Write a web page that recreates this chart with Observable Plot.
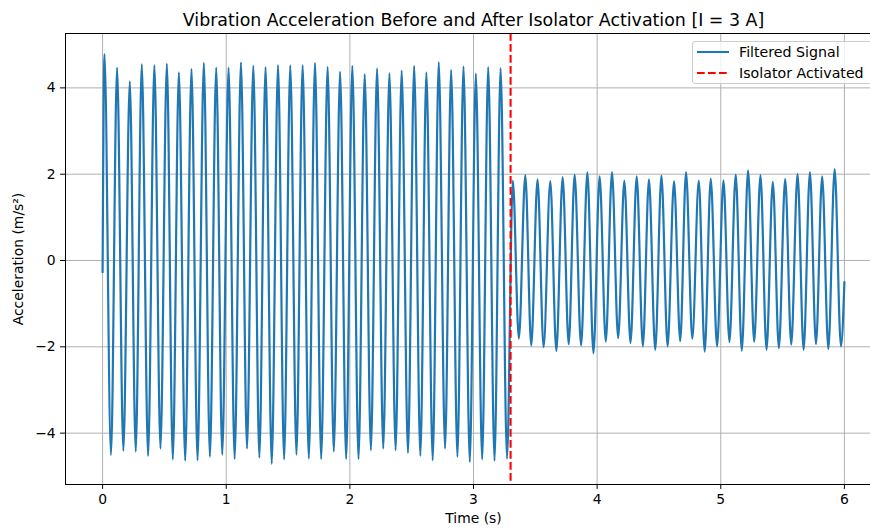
<!DOCTYPE html>
<html>
<head>
<meta charset="utf-8">
<script src="https://cdn.jsdelivr.net/npm/d3@7"></script>
<script src="https://cdn.jsdelivr.net/npm/@observablehq/plot@0.6"></script>
<style>
  html, body { margin: 0; padding: 0; background: #fff; overflow: hidden; width: 870px; height: 529px; }
  #wrap { position: relative; width: 882px; height: 529px; }
  #legend { position: absolute; left: 692px; top: 41px; width: 181px; height: 43px; box-sizing: border-box;
    border: 1px solid #cccccc; border-radius: 3px; background: rgba(255,255,255,0.8);
    font-family: "DejaVu Sans", sans-serif; font-size: 14.2px; color: #000; }
  .item { position: absolute; left: 0; height: 20px; width: 181px; }
  .item svg { position: absolute; left: 4px; top: 0; }
  .item span { position: absolute; left: 46px; top: 1px; line-height: 18px; white-space: nowrap; }
</style>
</head>
<body>
<div id="wrap">
  <div id="chart"></div>
  <div id="legend"></div>
</div>
<script>
// ---- data (extrema of the filtered signal) ----
const times = [
  0.000,
  0.015, 0.068, 0.117, 0.168, 0.220, 0.268, 0.317, 0.368, 0.419, 0.468,
  0.520, 0.568, 0.617, 0.668, 0.719, 0.768, 0.819, 0.868, 0.919, 0.968,
  1.019, 1.068, 1.119, 1.168, 1.219, 1.268, 1.318, 1.368, 1.419, 1.468,
  1.518, 1.568, 1.618, 1.668, 1.718, 1.768, 1.820, 1.870, 1.921, 1.970,
  2.020, 2.070, 2.120, 2.170, 2.220, 2.270, 2.320, 2.370, 2.419, 2.470,
  2.520, 2.570, 2.619, 2.670, 2.719, 2.770, 2.819, 2.870, 2.919, 2.970,
  3.019, 3.070, 3.119, 3.170, 3.219, 3.271,
  3.318, 3.367, 3.419, 3.467, 3.518, 3.567, 3.621, 3.670, 3.721, 3.770,
  3.818, 3.870, 3.921, 3.970, 4.020, 4.070, 4.120, 4.170, 4.220, 4.270,
  4.320, 4.370, 4.419, 4.470, 4.520, 4.570, 4.622, 4.672, 4.719, 4.770,
  4.822, 4.870, 4.919, 4.970, 5.022, 5.070, 5.121, 5.170, 5.221, 5.270,
  5.321, 5.370, 5.421, 5.470, 5.521, 5.570, 5.621, 5.670, 5.721, 5.770,
  5.820, 5.870, 5.921, 5.972,
  6.000
];
const accel = [
  -0.27,
  4.78, -4.51, 4.47, -4.41, 4.15, -4.43, 4.55, -4.53, 4.53, -4.36,
  4.56, -4.61, 4.36, -4.64, 4.44, -4.63, 4.58, -4.55, 4.47, -4.50,
  4.47, -4.60, 4.59, -4.36, 4.51, -4.57, 4.48, -4.71, 4.53, -4.61,
  4.52, -4.50, 4.53, -4.59, 4.58, -4.60, 4.49, -4.43, 4.38, -4.60,
  4.51, -4.60, 4.32, -4.40, 4.45, -4.36, 4.34, -4.40, 4.40, -4.46,
  4.51, -4.53, 4.36, -4.63, 4.60, -4.36, 4.42, -4.55, 4.50, -4.67,
  4.33, -4.61, 4.48, -4.64, 4.46, -4.59,
  1.85, -1.81, 1.98, -1.97, 1.88, -2.01, 1.84, -2.10, 1.93, -1.94,
  1.99, -1.97, 2.04, -2.15, 1.95, -1.88, 2.05, -1.80, 1.85, -1.91,
  1.95, -1.99, 1.88, -2.07, 1.97, -1.99, 1.84, -1.87, 2.05, -1.81,
  1.85, -2.11, 1.90, -1.99, 1.86, -1.89, 1.99, -2.09, 2.09, -1.88,
  1.98, -2.07, 1.82, -2.03, 1.89, -1.95, 2.01, -2.07, 2.05, -1.94,
  1.95, -2.05, 2.12, -1.99,
  -0.50
];
const activationTime = [3.3];
const xTicks = [0, 1, 2, 3, 4, 5, 6];
const yTicks = [-4, -2, 0, 2, 4];
const titleText = "Vibration Acceleration Before and After Isolator Activation [I = 3 A]";
const xLabel = "Time (s)";
const yLabel = "Acceleration (m/s²)";
const seriesNames = ["Filtered Signal", "Isolator Activated"];

const signal = times.map((t, i) => ({t, a: accel[i]}));
const blue = "#1f77b4";
const fmt = d => (d < 0 ? "\u2212" : "") + Math.abs(d);

const chart = Plot.plot({
  width: 882,
  height: 529,
  marginLeft: 65,
  marginRight: 1,
  marginTop: 33,
  marginBottom: 45,
  style: {fontFamily: "DejaVu Sans, sans-serif", fontSize: "13.9px", background: "white", color: "black", overflow: "visible"},
  x: {domain: [-0.3, 6.3], label: null},
  y: {domain: [-5.19, 5.26], label: null},
  marks: [
    Plot.gridX(xTicks, {stroke: "#b0b0b0", strokeOpacity: 1, strokeWidth: 1}),
    Plot.gridY(yTicks, {stroke: "#b0b0b0", strokeOpacity: 1, strokeWidth: 1}),
    Plot.line(signal, {x: "t", y: "a", stroke: blue, strokeWidth: 2.2, curve: "monotone-x"}),
    Plot.ruleX(activationTime, {stroke: "red", strokeWidth: 2.08, strokeDasharray: "7.7,3.3"}),
    Plot.axisX(xTicks, {tickSize: 4.9, tickPadding: 4.9, stroke: "black", strokeWidth: 1, label: null, tickFormat: fmt}),
    Plot.axisY(yTicks, {tickSize: 4.9, tickPadding: 4.9, stroke: "black", strokeWidth: 1, label: null, tickFormat: fmt}),
    Plot.frame({stroke: "black", strokeWidth: 1}),
    Plot.text([titleText], {text: d => d, frameAnchor: "top", dy: -13, lineAnchor: "middle", textAnchor: "middle", fontSize: 17.4, fill: "black"}),
    Plot.text([xLabel], {text: d => d, frameAnchor: "bottom", dy: 34, lineAnchor: "middle", textAnchor: "middle", fill: "black"}),
    Plot.text([yLabel], {text: d => d, frameAnchor: "left", dx: -47, rotate: -90, lineAnchor: "middle", textAnchor: "middle", fill: "black"})
  ]
});
document.getElementById("chart").appendChild(chart);

// legend
const legend = document.getElementById("legend");
const styles = [{stroke: blue, dash: null, top: 0}, {stroke: "red", dash: "7.7,3.3", top: 21}];
seriesNames.forEach((name, i) => {
  const s = styles[i];
  const item = document.createElement("div");
  item.className = "item";
  item.style.top = s.top + "px";
  item.innerHTML = `<svg width="34" height="20"><line x1="0" x2="32" y1="10" y2="10" stroke="${s.stroke}" stroke-width="2.08" ${s.dash ? `stroke-dasharray="${s.dash}"` : ""}/></svg><span>${name}</span>`;
  legend.appendChild(item);
});
</script>
</body>
</html>
